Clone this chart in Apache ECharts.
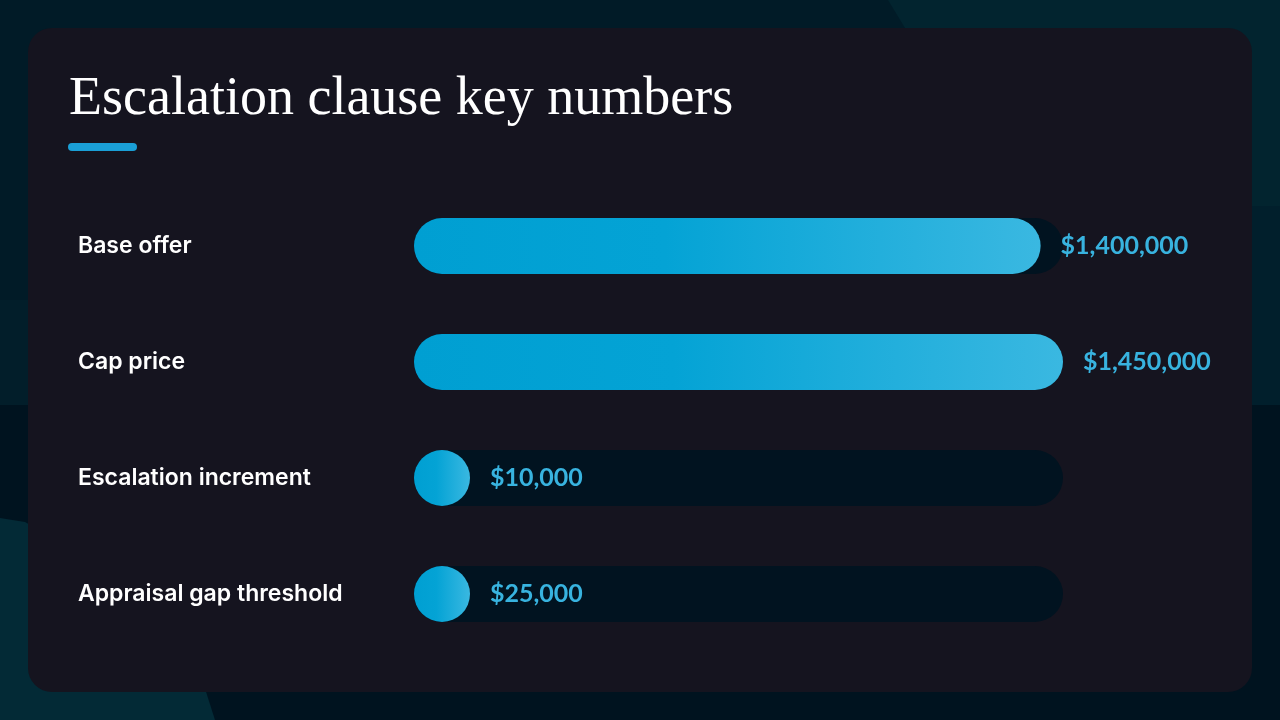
<!DOCTYPE html>
<html>
<head>
<meta charset="utf-8">
<title>Escalation clause key numbers</title>
<script src="https://cdn.jsdelivr.net/npm/echarts@6/dist/echarts.min.js"></script>
<style>
	html, body { margin: 0; padding: 0; background: #00131f; }
	#chart_1 { width: 1280px; height: 720px; }
</style>
</head>
<body>
<div id="chart_1"></div>
<script>
// chart data
var categories = ['Base offer', 'Cap price', 'Escalation increment', 'Appraisal gap threshold'];
var values = [1400000, 1450000, 10000, 25000];
var axisMax = 1450000;

(function() {
	var myChart = echarts.init(document.getElementById('chart_1'));

	var trackData = categories.map(function() { return axisMax; });

	var barGradient = new echarts.graphic.LinearGradient(0, 0, 1, 0, [
		{ offset: 0, color: '#009fd2' },
		{ offset: 0.4, color: '#04a3d5' },
		{ offset: 1, color: '#3ab8e1' }
	]);

	var option = {
		backgroundColor: '#00131f',
		animation: false,
		graphic: [
			// page background shapes
			{ type: 'rect', z: -10, shape: { x: 0, y: 0, width: 1280, height: 405 }, style: { fill: '#011b27' } },
			{ type: 'polygon', z: -9, shape: { points: [[888, 0], [1280, 0], [1280, 206], [1252, 206], [1240, 60], [905, 28]] }, style: { fill: '#02242f' } },
			{ type: 'rect', z: -9, shape: { x: 1240, y: 206, width: 40, height: 199 }, style: { fill: '#011f2c' } },
			{ type: 'rect', z: -9, shape: { x: 0, y: 300, width: 40, height: 105 }, style: { fill: '#021e2a' } },
			{ type: 'polygon', z: -9, shape: { points: [[0, 518], [25, 522], [180, 610], [215, 720], [0, 720]] }, style: { fill: '#032a36' } },
			// card
			{ type: 'rect', z: -5, shape: { x: 28, y: 28, width: 1224, height: 664, r: 24 }, style: { fill: '#15141f' } },
			// title
			{
				type: 'text', left: 69, top: 73, z: 5,
				style: {
					text: 'Escalation clause key numbers',
					fill: '#ffffff',
					font: '54px "Liberation Serif", serif'
				}
			},
			// accent line
			{ type: 'rect', z: 5, shape: { x: 68, y: 143, width: 69, height: 8, r: 4 }, style: { fill: '#1a9fd6' } }
		],
		grid: {
			left: 414,
			right: 217,
			top: 188,
			height: 464,
			containLabel: false
		},
		xAxis: {
			type: 'value',
			min: 0,
			max: axisMax,
			show: false
		},
		yAxis: {
			type: 'category',
			inverse: true,
			data: categories,
			axisLine: { show: false },
			axisTick: { show: false },
			splitLine: { show: false },
			axisLabel: {
				align: 'left',
				margin: 336,
				color: '#ffffff',
				fontFamily: 'Inter, "Noto Sans", sans-serif',
				fontWeight: 600,
				fontSize: 23
			}
		},
		series: [{
			// background track
			type: 'bar',
			data: trackData,
			barWidth: 56,
			silent: true,
			itemStyle: {
				color: '#011320',
				borderRadius: 28
			},
			z: 1
		}, {
			type: 'bar',
			name: 'Amount',
			data: values,
			barWidth: 56,
			barGap: '-100%',
			barMinHeight: 56,
			itemStyle: {
				color: barGradient,
				borderRadius: 28
			},
			label: {
				show: true,
				position: 'right',
				distance: 20,
				color: '#38b3df',
				fontFamily: 'Lato, sans-serif',
				fontWeight: 'bold',
				fontSize: 25,
				formatter: function(p) {
					return '$' + p.value.toLocaleString('en-US');
				}
			},
			z: 2
		}]
	};

	myChart.setOption(option);
	window.addEventListener('resize', function() {
		myChart.resize();
	});
})();
</script>
</body>
</html>
